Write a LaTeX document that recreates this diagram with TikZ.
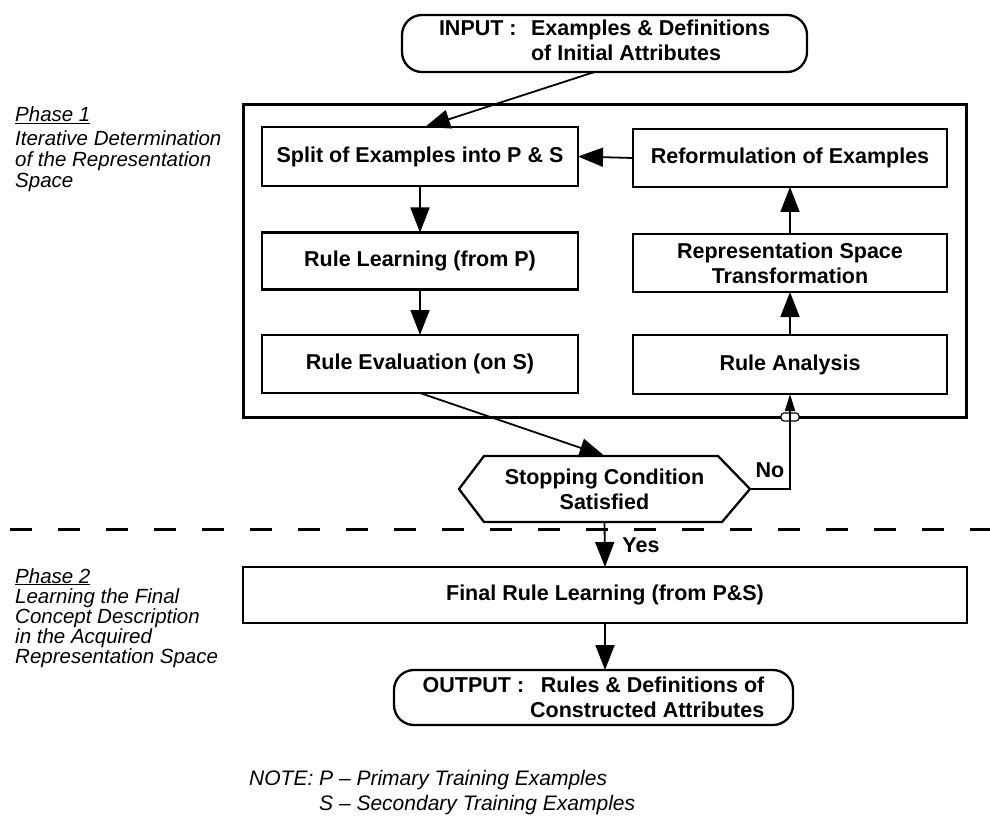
\documentclass[tikz,border=0pt]{standalone}
\usepackage{fontspec}
\setmainfont{Liberation Sans}
\usetikzlibrary{arrows.meta}
\newcommand\boxfont{\fontsize{21.5}{25}\selectfont\bfseries}
\newcommand\sidefont{\fontsize{20.5}{21}\selectfont\itshape}
\begin{document}
\begin{tikzpicture}[x=1pt,y=-1pt,
  box/.style={draw, line width=2.3pt, rectangle, inner sep=0pt, outer sep=0pt, align=center, font=\boxfont},
  rbox/.style={box, rounded corners=20pt},
  arr/.style={line width=1.8pt, -{Triangle[width=19pt,length=25pt]}},
  sarr/.style={line width=1.8pt, -{Triangle[width=10pt,length=17pt]}},
  side/.style={anchor=base west, inner sep=0pt, font=\sidefont},
  lbl/.style={inner sep=0pt, font=\boxfont},
]
\path[use as bounding box, fill=white] (0,0) rectangle (990,818);

% phase 1 frame
\node[draw, line width=3pt, minimum width=723pt, minimum height=312pt, inner sep=0pt, outer sep=0pt] (frame) at (604.5,261) {};

% input / output
\node[rbox, minimum width=405pt, minimum height=57pt] (input) at (604.5,43.5)
  {\begin{tabular}{@{}l@{}l@{}}INPUT :\hspace{0.67em} & Examples \& Definitions\\ & of Initial Attributes\end{tabular}};
\node[rbox, align=right, minimum width=399pt, minimum height=55pt] (output) at (593.5,697.5)
  {OUTPUT :\hspace{0.5em} Rules \& Definitions of\\ Constructed Attributes};

% left column
\node[box, minimum width=316pt, minimum height=59pt] (split) at (420,156.5) {Split of Examples into P \& S};
\node[box, minimum width=316pt, minimum height=57pt] (rlearn) at (420,261) {Rule Learning (from P)};
\node[box, minimum width=316pt, minimum height=58pt] (reval) at (420,364) {Rule Evaluation (on S)};

% right column
\node[box, minimum width=314pt, minimum height=58pt] (reform) at (790,158) {Reformulation of Examples};
\node[box, minimum width=314pt, minimum height=58pt] (rep) at (790,263) {Representation Space\\Transformation};
\node[box, minimum width=314pt, minimum height=59pt] (ranal) at (790,364.5) {Rule Analysis};

% stopping condition (hexagon)
\node[lbl, align=center, minimum width=291pt, minimum height=66pt, outer sep=0pt] (stop) at (604.5,489) {Stopping Condition\\Satisfied};
\draw[line width=2.3pt, line join=miter] (stop.west) -- ([xshift=25pt]stop.north west) -- ([xshift=-32pt]stop.north east)
  -- (stop.east) -- ([xshift=-28pt]stop.south east) -- ([xshift=25pt]stop.south west) -- cycle;

% final
\node[box, minimum width=724pt, minimum height=56pt] (final) at (605,595) {Final Rule Learning (from P\&S)};

% phase separator
\draw[line width=3pt, dash pattern=on 22pt off 26pt, dash phase=38pt] (0,529) -- (990,529);

% connectors
\draw[arr] ([xshift=-10pt]input.south) -- ([xshift=5pt]split.north);
\draw[arr] (reform.west) -- (split.east);
\draw[arr] (split.south) -- (rlearn.north);
\draw[arr] (rlearn.south) -- (reval.north);
\draw[arr] (rep.north) -- (reform.south);
\draw[arr] (ranal.north) -- (rep.south);
\draw[arr] (reval.south) -- (stop.north);
\coordinate (notch) at (ranal.south |- frame.south);
\draw[line width=1.2pt, fill=white, rounded corners=3pt] ([shift={(-9pt,-4pt)}]notch) rectangle ([shift={(9pt,4pt)}]notch);
\draw[sarr] (stop.east) -| (ranal.south);
\draw[arr] (stop.south) -- (final.north);
\draw[arr] (final.south) -- (final.south |- output.north);

\node[lbl] (no) at (770,470) {No};
\node[lbl] (yes) at (641,545) {Yes};

% side texts
\node[side] (p1t) at (15,122) {\underline{Phase 1}};
\node[side] (p1a) at (15,146) {Iterative Determination};
\node[side] (p1b) at (15,167) {of the Representation};
\node[side] (p1c) at (15,188) {Space};
\node[side] (p2t) at (15,583) {\underline{Phase 2}};
\node[side] (p2a) at (15,603) {Learning the Final};
\node[side] (p2b) at (15,623) {Concept Description};
\node[side] (p2c) at (15,643) {in the Acquired};
\node[side] (p2d) at (15,663) {Representation Space};

% note
\node[side, font=\fontsize{21}{22}\selectfont\itshape] (note1) at (249,785) {NOTE: P – Primary Training Examples};
\node[side, font=\fontsize{21}{22}\selectfont\itshape] (note2) at (249,810) {\phantom{NOTE: }S – Secondary Training Examples};
\end{tikzpicture}
\end{document}
